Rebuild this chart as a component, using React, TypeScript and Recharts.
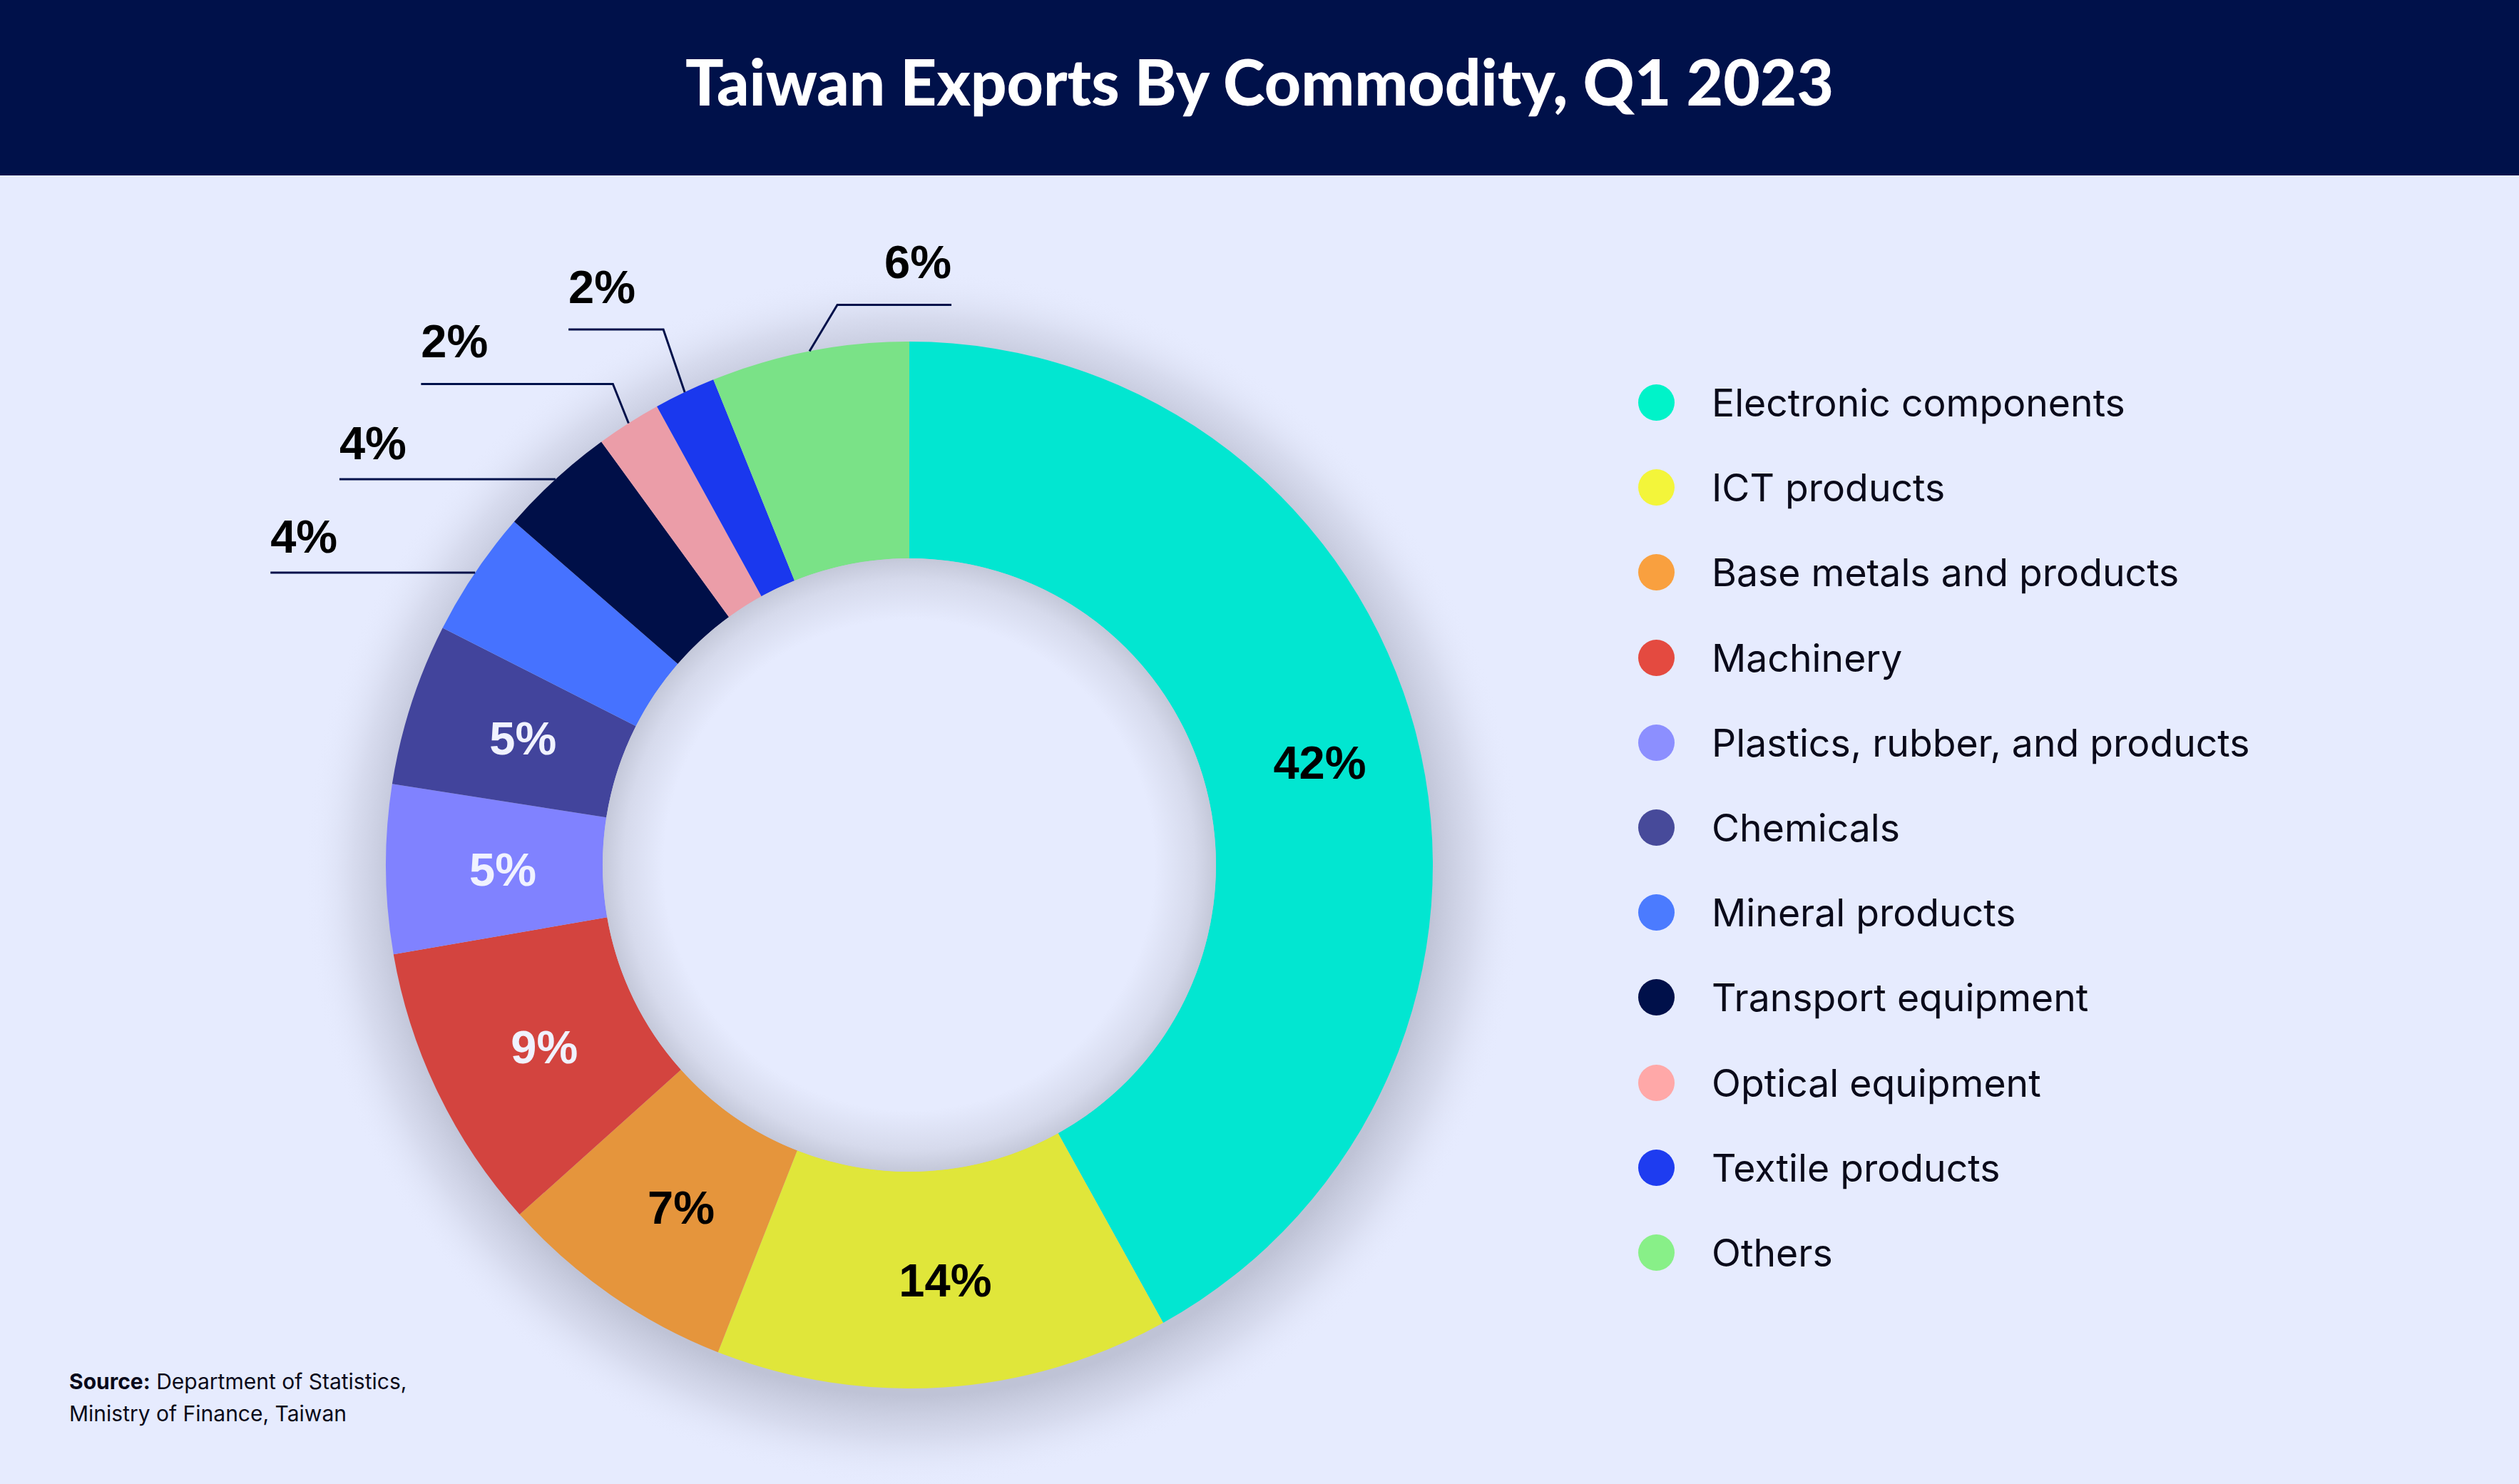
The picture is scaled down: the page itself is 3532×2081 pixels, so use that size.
import { PieChart, Pie, Cell, Legend } from 'recharts';

const CATEGORIES = [
  'Electronic components',
  'ICT products',
  'Base metals and products',
  'Machinery',
  'Plastics, rubber, and products',
  'Chemicals',
  'Mineral products',
  'Transport equipment',
  'Optical equipment',
  'Textile products',
  'Others',
];
// share of Q1 2023 exports, %
const SHARES = [41.9, 14.0, 7.4, 8.9, 5.2, 5.0, 3.9, 3.6, 2.0, 1.9, 6.1];
const SHARE_LABELS = ['42%', '14%', '7%', '9%', '5%', '5%', '4%', '4%', '2%', '2%', '6%'];

const SLICE_COLORS = [
  '#02E6D1', '#E0E63A', '#E5953C', '#D3443F', '#8082FF', '#42449C',
  '#4672FF', '#000F48', '#EB9DA8', '#1A38EE', '#7AE287',
];
const LEGEND_COLORS = [
  '#00F3C9', '#F3F53A', '#F9A03F', '#E44A40', '#8C8FFF', '#474A9A',
  '#4B7BFF', '#00104A', '#FFA8A8', '#1E3CF0', '#88F088',
];
const LABEL_INK = ['#000', '#000', '#000', '#F0F2FF', '#F0F2FF', '#F0F2FF'];

const BG = '#E6EBFE';
const NAVY = '#00114A';
const CX = 1275;
const CY = 1213;
const R_OUT = 734;
const R_IN = 430;

// leader lines for the thin slices (index -> elbow offset, horizontal run, text gap)
const LEADERS: Record<number, { dx: number; rise: number; run: number; gap: number }> = {
  6: { dx: 0, rise: 0, run: -287, gap: 28 },
  7: { dx: 0, rise: 0, run: -303, gap: 28 },
  8: { dx: -22, rise: 55, run: -269, gap: 37 },
  9: { dx: -30, rise: 88, run: -133, gap: 37 },
  10: { dx: 39, rise: 65, run: 160, gap: 37 },
};

const pieData = CATEGORIES.map((name, i) => ({ name, value: SHARES[i], label: SHARE_LABELS[i] }));
const backdrop = [{ name: 'shadow', value: 1 }];

const RAD = Math.PI / 180;

function SliceLabel(props: any) {
  const { cx, cy, midAngle, innerRadius, outerRadius, index } = props;
  const cos = Math.cos(-midAngle * RAD);
  const sin = Math.sin(-midAngle * RAD);
  const text = SHARE_LABELS[index];
  const font = { fontFamily: '"Liberation Sans", Arial, sans-serif', fontWeight: 700, fontSize: 65 };
  const leader = LEADERS[index];
  if (!leader) {
    const r = (innerRadius + outerRadius) / 2;
    return (
      <text x={cx + r * cos + 12} y={cy + r * sin + 2} textAnchor="middle" dominantBaseline="central" fill={LABEL_INK[index]} {...font}>
        {text}
      </text>
    );
  }
  const px = cx + outerRadius * cos;
  const py = cy + outerRadius * sin;
  const ex = px + leader.dx;
  const ey = py - leader.rise;
  const tx = ex + leader.run;
  return (
    <g>
      <polyline points={`${px},${py} ${ex},${ey} ${tx},${ey}`} fill="none" stroke={NAVY} strokeWidth={3} />
      <text x={tx} y={ey - leader.gap} textAnchor={leader.run > 0 ? 'end' : 'start'} fill="#000" {...font}>
        {text}
      </text>
    </g>
  );
}

function LegendList() {
  return (
    <div style={{ fontFamily: 'Inter, sans-serif', fontSize: 53.5, color: '#0A0A1A' }}>
      {CATEGORIES.map((c, i) => (
        <div key={c} style={{ height: 119.2, display: 'flex', alignItems: 'center' }}>
          <span style={{ width: 51, height: 51, borderRadius: '50%', background: LEGEND_COLORS[i], marginRight: 52, flex: 'none' }} />
          <span style={{ whiteSpace: 'nowrap' }}>{c}</span>
        </div>
      ))}
    </div>
  );
}

export default function App() {
  return (
    <div style={{ position: 'absolute', left: 0, top: 0, width: 3532, height: 2081, background: BG, overflow: 'hidden' }}>
      <div
        style={{
          position: 'absolute', left: 0, top: 0, width: 3532, height: 246, background: NAVY,
          display: 'flex', alignItems: 'center', justifyContent: 'center', boxSizing: 'border-box', paddingBottom: 20,
          color: '#fff', fontFamily: 'Lato, sans-serif', fontWeight: 900, fontSize: 89,
        }}
      >
        Taiwan Exports By Commodity, Q1 2023
      </div>
      <div style={{ position: 'absolute', left: 0, top: 0 }}>
        <PieChart width={3532} height={2081} margin={{ top: 0, right: 0, bottom: 0, left: 0 }}>
          <defs>
            <radialGradient id="outerShade" cx="50%" cy="50%" r="50%">
              <stop offset="0.85" stopColor="#BFC3D6" stopOpacity={1} />
              <stop offset="0.92" stopColor="#D3D7EA" stopOpacity={0.8} />
              <stop offset="1" stopColor={BG} stopOpacity={0} />
            </radialGradient>
            <radialGradient id="holeShade" cx="50%" cy="50%" r="50%">
              <stop offset="0.8" stopColor={BG} />
              <stop offset="0.93" stopColor="#D6DAEC" />
              <stop offset="1" stopColor="#C4C8D9" />
            </radialGradient>
          </defs>
          <Pie
            data={backdrop}
            dataKey="value"
            cx={CX + 6}
            cy={CY + 18}
            innerRadius={0}
            outerRadius={R_OUT + 120}
            startAngle={90}
            endAngle={-270}
            stroke="none"
            fill="url(#outerShade)"
            isAnimationActive={false}
            legendType="none"
          />
          <Pie
            data={pieData}
            dataKey="value"
            nameKey="name"
            cx={CX}
            cy={CY}
            innerRadius={R_IN}
            outerRadius={R_OUT}
            startAngle={90}
            endAngle={-270}
            stroke="none"
            label={SliceLabel}
            labelLine={false}
            isAnimationActive={false}
          >
            {pieData.map((d, i) => (
              <Cell key={d.name} fill={SLICE_COLORS[i]} />
            ))}
          </Pie>
          <Pie
            data={backdrop}
            dataKey="value"
            cx={CX}
            cy={CY}
            innerRadius={0}
            outerRadius={R_IN}
            startAngle={90}
            endAngle={-270}
            stroke="none"
            fill="url(#holeShade)"
            isAnimationActive={false}
            legendType="none"
          />
          <Legend
            layout="vertical"
            align="right"
            verticalAlign="top"
            content={() => <LegendList />}
            wrapperStyle={{ left: 2297, top: 505, right: 'auto', width: 1100 }}
          />
        </PieChart>
      </div>
      <div
        style={{
          position: 'absolute', left: 97, top: 1915, fontFamily: 'Inter, sans-serif', fontSize: 30,
          lineHeight: '45px', color: '#0A0A1A',
        }}
      >
        <b>Source:</b> Department of Statistics,
        <br />
        Ministry of Finance, Taiwan
      </div>
    </div>
  );
}
